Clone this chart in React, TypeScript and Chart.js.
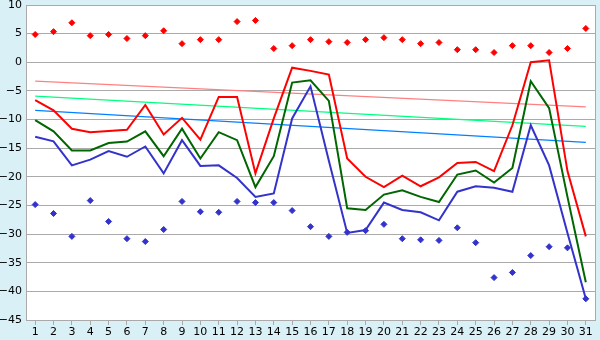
import React, { useEffect, useRef } from "react";
import { Chart, registerables } from "chart.js";
Chart.register(...registerables);

const days = ["1","2","3","4","5","6","7","8","9","10","11","12","13","14","15","16","17","18","19","20","21","22","23","24","25","26","27","28","29","30","31"];

const redLine = [-6.6,-8.4,-11.6,-12.2,-12.0,-11.8,-7.45,-12.6,-9.7,-13.5,-6.05,-6.05,-19.4,-9.8,-0.95,-1.5,-2.15,-16.8,-20.0,-21.8,-19.8,-21.65,-20.1,-17.6,-17.4,-19.0,-11.0,0.0,0.35,-19.0,-30.4];
const greenLine = [-10.1,-12.05,-15.4,-15.4,-14.1,-13.85,-12.05,-16.4,-11.6,-16.8,-12.2,-13.6,-21.8,-16.4,-3.55,-3.15,-6.75,-25.5,-25.8,-23.1,-22.35,-23.5,-24.4,-19.6,-18.9,-21.0,-18.45,-3.3,-8.0,-23.5,-38.4];
const blueLine = [-13.0,-13.8,-18.0,-17.0,-15.5,-16.5,-14.7,-19.4,-13.6,-18.1,-18.0,-20.2,-23.5,-22.9,-9.8,-4.2,-17.2,-29.8,-29.3,-24.5,-25.8,-26.2,-27.6,-22.6,-21.65,-21.9,-22.6,-11.0,-18.0,-29.8,-41.3];
const redPoints = [4.85,5.35,6.9,4.65,4.85,4.15,4.65,5.5,3.25,3.95,3.95,7.1,7.3,2.4,2.9,3.95,3.6,3.45,3.95,4.3,3.95,3.25,3.45,2.2,2.2,1.7,2.9,2.9,1.7,2.4,5.9];
const bluePoints = [-24.85,-26.4,-30.4,-24.15,-27.8,-30.8,-31.3,-29.2,-24.3,-26.1,-26.2,-24.3,-24.5,-24.5,-25.9,-28.7,-30.4,-29.7,-29.4,-28.3,-30.8,-31.0,-31.1,-28.9,-31.5,-37.6,-36.7,-33.75,-32.2,-32.4,-41.3];
const redTrend = [-3.3, -7.8];
const greenTrend = [-5.9, -11.2];
const blueTrend = [-8.4, -14.0];
const yMin = -45;
const yMax = 10;
const yStep = 5;

const trend = (ends: number[]) => [
  { x: days[0], y: ends[0] },
  { x: days[days.length - 1], y: ends[1] },
];

const bgPlugin = {
  id: "bg",
  beforeDraw(chart: any) {
    const { ctx, chartArea } = chart;
    ctx.save();
    ctx.fillStyle = "#daf0f7";
    ctx.fillRect(0, 0, chart.width, chart.height);
    ctx.fillStyle = "#ffffff";
    ctx.fillRect(chartArea.left, chartArea.top, chartArea.right - chartArea.left, chartArea.bottom - chartArea.top);
    ctx.strokeStyle = "#aaaaaa";
    ctx.lineWidth = 1;
    ctx.beginPath();
    ctx.moveTo(Math.round(chartArea.right) + 0.5, chartArea.top);
    ctx.lineTo(Math.round(chartArea.right) + 0.5, chartArea.bottom);
    ctx.stroke();
    ctx.restore();
  },
};

export default function App() {
  const ref = useRef<HTMLCanvasElement>(null);
  useEffect(() => {
    document.body.style.margin = "0";
    const pt = (color: string, data: number[]) => ({
      data,
      showLine: false,
      pointStyle: "rectRot",
      pointRadius: 3,
      pointBackgroundColor: color,
      pointBorderColor: color,
      pointBorderWidth: 1,
    });
    const ln = (color: string, data: number[]) => ({
      data,
      borderColor: color,
      borderWidth: 2,
      pointRadius: 0,
      tension: 0,
    });
    const tr = (color: string, ends: number[]) => ({
      data: trend(ends) as any,
      borderColor: color,
      borderWidth: 1.2,
      pointRadius: 0,
    });
    const chart = new Chart(ref.current!, {
      type: "line",
      data: {
        labels: days,
        datasets: [
          pt("#ff0000", redPoints),
          pt("#3333cc", bluePoints),
          ln("#ff0000", redLine),
          ln("#006600", greenLine),
          ln("#3333cc", blueLine),
          tr("#ff8080", redTrend),
          tr("#00ff80", greenTrend),
          tr("#0080ff", blueTrend),
        ] as any,
      },
      options: {
        animation: false,
        responsive: false,
        devicePixelRatio: 1,
        layout: { padding: { top: 5, right: 5, left: 0, bottom: 0 } },
        plugins: { legend: { display: false }, tooltip: { enabled: false } },
        scales: {
          x: {
            offset: true,
            grid: { display: true, drawOnChartArea: false, drawTicks: true, tickLength: 5, color: "#aaaaaa", offset: false },
            border: { color: "#aaaaaa" },
            ticks: { color: "#000", font: { family: "DejaVu Sans", size: 11 }, padding: 1, maxRotation: 0, autoSkip: false },
            afterFit: (axis: any) => { axis.height = 20; axis.paddingLeft = 0; axis.paddingRight = 0; },
          },
          y: {
            min: yMin,
            max: yMax,
            grid: { color: "#aaaaaa", drawTicks: false },
            border: { color: "#aaaaaa" },
            ticks: {
              stepSize: yStep,
              color: "#000",
              padding: 4,
              font: { family: "DejaVu Sans", size: 11 },
              callback: (v: any) => String(v).replace("-", "\u2212"),
            },
            afterFit: (axis: any) => { axis.width = 26; axis.paddingTop = 0; axis.paddingBottom = 0; },
          },
        },
      },
      plugins: [bgPlugin],
    });
    return () => chart.destroy();
  }, []);
  return (
    <div style={{ width: 600, height: 340 }}>
      <canvas ref={ref} width={600} height={340} style={{ display: "block" }} />
    </div>
  );
}
